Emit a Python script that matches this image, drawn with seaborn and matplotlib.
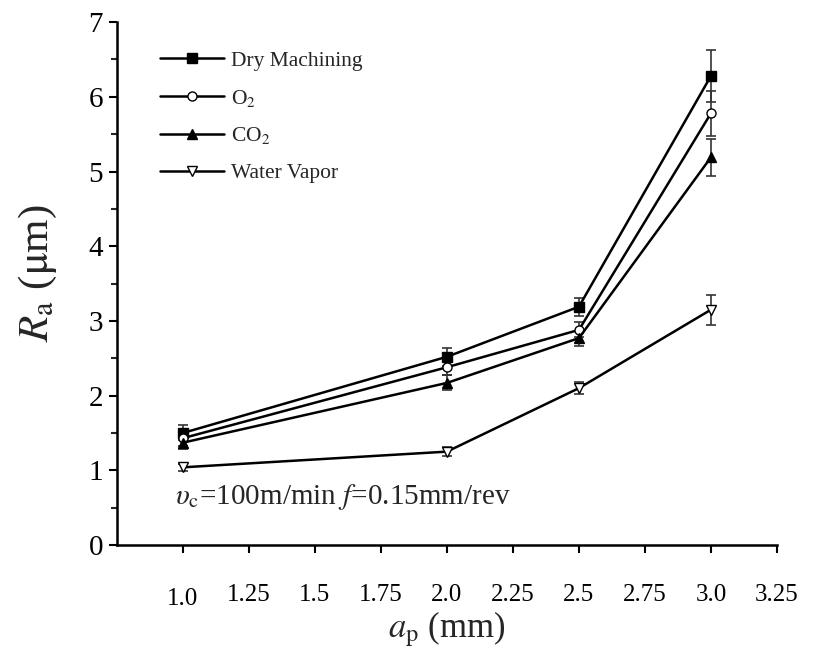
import matplotlib
matplotlib.use("Agg")
import matplotlib.pyplot as plt
import seaborn as sns
import pandas as pd
import numpy as np

# Depth of cut (mm) and surface roughness Ra (um) for each atmosphere
depth = [1.0, 2.0, 2.5, 3.0]
dry = [1.50, 2.52, 3.19, 6.28]
o2 = [1.43, 2.38, 2.88, 5.78]
co2 = [1.37, 2.17, 2.77, 5.19]
vapor = [1.04, 1.25, 2.10, 3.15]

dry_err = [0.10, 0.12, 0.12, 0.35]
o2_err = [0.10, 0.10, 0.10, 0.30]
co2_err = [0.08, 0.10, 0.10, 0.25]
vapor_err = [0.05, 0.06, 0.08, 0.20]

series_names = ["Dry Machining", "O$_2$", "CO$_2$", "Water Vapor"]
x_ticks = [1.0, 1.25, 1.5, 1.75, 2.0, 2.25, 2.5, 2.75, 3.0, 3.25]
x_tick_labels = ["1.0", "1.25", "1.5", "1.75", "2.0", "2.25", "2.5", "2.75", "3.0", "3.25"]
y_ticks = [0, 1, 2, 3, 4, 5, 6, 7]

sns.set_theme(style="ticks")
plt.rcParams["font.family"] = ["Liberation Serif", "DejaVu Serif"]
plt.rcParams["mathtext.fontset"] = "stix"

fig = plt.figure(figsize=(8.26, 6.61), dpi=100)
ax = fig.add_axes([0.1416, 0.1755, 0.799, 0.791])

values = [dry, o2, co2, vapor]
errors = [dry_err, o2_err, co2_err, vapor_err]
markers = ["s", "o", "^", "v"]
faces = ["black", "white", "black", "white"]

rows = []
for name, vals in zip(series_names, values):
    for xv, yv in zip(depth, vals):
        rows.append({"ap": xv, "Ra": yv, "series": name})
df = pd.DataFrame(rows)

for name, vals, err, mk, fc in zip(series_names, values, errors, markers, faces):
    sub = df[df["series"] == name]
    ax.errorbar(depth, vals, yerr=err, fmt="none", ecolor="#333333",
                elinewidth=1.2, capsize=3.5, capthick=1.2, zorder=2)
    sns.lineplot(data=sub, x="ap", y="Ra", ax=ax, color="black", lw=1.8,
                 marker=mk, markersize=6.5, markerfacecolor=fc,
                 markeredgecolor="black", markeredgewidth=1.0,
                 label=name, zorder=3)

ax.set_xlim(0.75, 3.25)
ax.set_ylim(0, 7)
ax.set_xticks(x_ticks)
ax.set_xticklabels(x_tick_labels)
ax.set_yticks(y_ticks)
ax.yaxis.set_minor_locator(matplotlib.ticker.MultipleLocator(0.5))
ax.tick_params(axis="both", which="major", direction="out", length=6, width=1.5,
               colors="black")
ax.tick_params(axis="y", which="minor", direction="out", length=4, width=1.5)
ax.tick_params(axis="y", labelsize=21, pad=4)
ax.tick_params(axis="x", labelsize=18, pad=22)
for i, lab in enumerate(ax.get_xticklabels()):
    if x_tick_labels[i] == "1.0":
        lab.set_y(-0.008)

for side in ["top", "right"]:
    ax.spines[side].set_visible(False)
for side in ["left", "bottom"]:
    ax.spines[side].set_linewidth(1.8)
    ax.spines[side].set_color("black")

ax.set_xlabel("$a_{\\rm p}$ (mm)", fontsize=25, labelpad=0)
ax.set_ylabel("$R_{\\rm a}$ ($\\rm\\mu$m)", fontsize=31, labelpad=2)
ax.yaxis.set_label_coords(-0.088, 0.52)

ax.text(0.97, 0.64, "$\\upsilon_{\\rm c}$=100m/min $f$=0.15mm/rev",
        fontsize=21, ha="left", va="center")

leg = ax.legend(loc="upper left", bbox_to_anchor=(0.045, 0.97), frameon=False,
                fontsize=15.5, handlelength=3.0, labelspacing=0.78,
                handletextpad=0.3, borderaxespad=0.2)

fig.savefig("out.png", dpi=100, facecolor="white")
